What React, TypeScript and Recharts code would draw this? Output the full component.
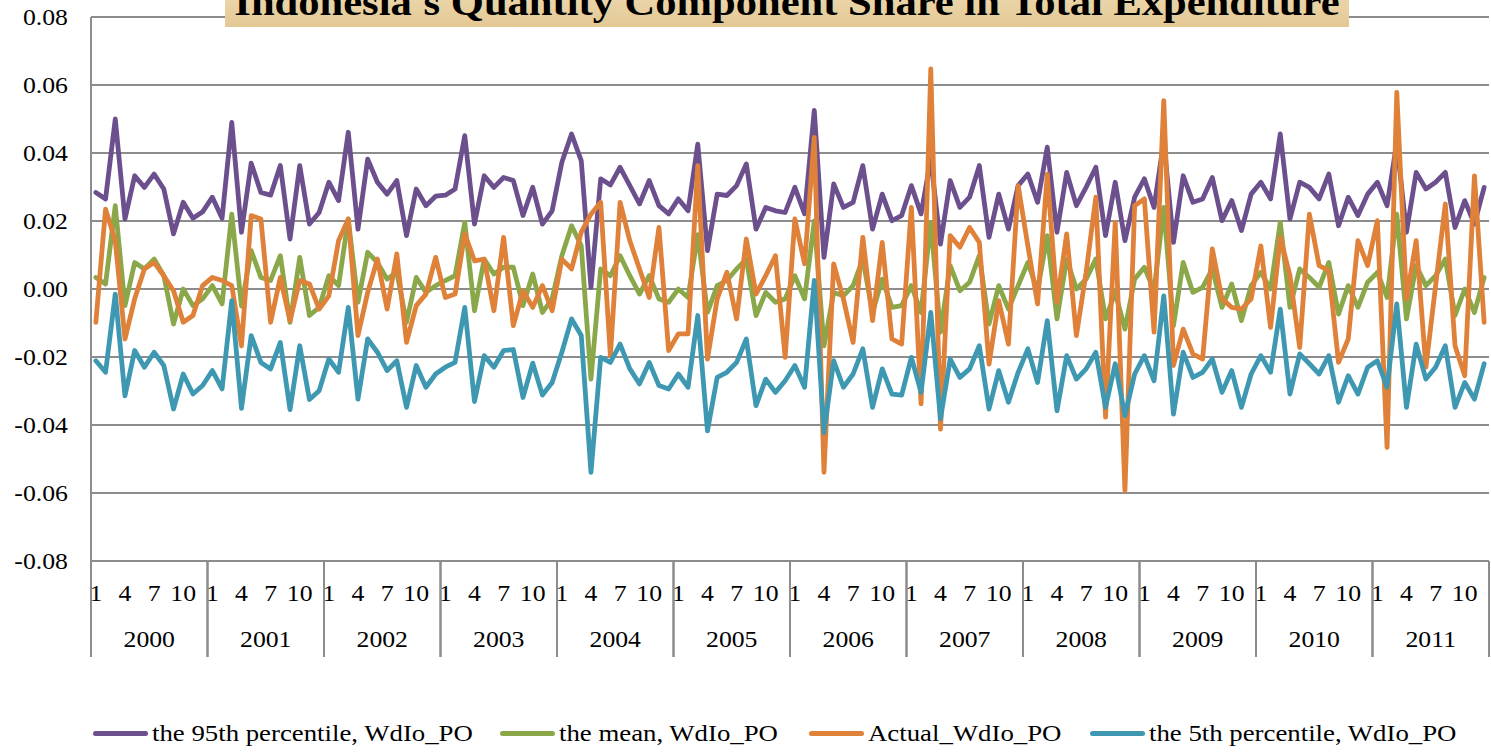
import React from 'react';
import { LineChart, Line, XAxis, YAxis, CartesianGrid } from 'recharts';

const years = [2000, 2001, 2002, 2003, 2004, 2005, 2006, 2007, 2008, 2009, 2010, 2011];
const months = [1, 2, 3, 4, 5, 6, 7, 8, 9, 10, 11, 12];
const yTicks = [-0.08, -0.06, -0.04, -0.02, 0, 0.02, 0.04, 0.06, 0.08];

const p95 = [
  0.0284, 0.0265, 0.0500, 0.0206, 0.0333, 0.0299, 0.0338, 0.0294, 0.0162, 0.0255, 0.0208, 0.0227,
  0.0270, 0.0208, 0.0490, 0.0167, 0.0370, 0.0284, 0.0276, 0.0363, 0.0147, 0.0363, 0.0191, 0.0225,
  0.0314, 0.0260, 0.0461, 0.0176, 0.0382, 0.0314, 0.0279, 0.0319, 0.0157, 0.0294, 0.0245, 0.0273,
  0.0276, 0.0294, 0.0451, 0.0191, 0.0333, 0.0299, 0.0328, 0.0319, 0.0216, 0.0299, 0.0191, 0.0230,
  0.0373, 0.0456, 0.0377, 0.0005, 0.0324, 0.0306, 0.0358, 0.0304, 0.0250, 0.0319, 0.0245, 0.0221,
  0.0265, 0.0230, 0.0426, 0.0113, 0.0279, 0.0275, 0.0304, 0.0368, 0.0176, 0.0240, 0.0230, 0.0225,
  0.0299, 0.0221, 0.0525, 0.0093, 0.0309, 0.0240, 0.0255, 0.0363, 0.0176, 0.0279, 0.0201, 0.0216,
  0.0304, 0.0221, 0.0382, 0.0132, 0.0319, 0.0240, 0.0270, 0.0363, 0.0152, 0.0279, 0.0176, 0.0304,
  0.0338, 0.0255, 0.0417, 0.0167, 0.0343, 0.0245, 0.0299, 0.0358, 0.0157, 0.0314, 0.0142, 0.0270,
  0.0324, 0.0240, 0.0436, 0.0137, 0.0333, 0.0255, 0.0265, 0.0328, 0.0201, 0.0260, 0.0172, 0.0279,
  0.0314, 0.0265, 0.0456, 0.0206, 0.0314, 0.0299, 0.0265, 0.0338, 0.0186, 0.0270, 0.0216, 0.0279,
  0.0314, 0.0245, 0.0431, 0.0167, 0.0343, 0.0294, 0.0314, 0.0343, 0.0181, 0.0260, 0.0191, 0.0299,
];

const meanV = [
  0.0034, 0.0015, 0.0245, -0.0049, 0.0078, 0.0059, 0.0088, 0.0039, -0.0103, 0.0000, -0.0049, -0.0029,
  0.0010, -0.0044, 0.0220, -0.0050, 0.0113, 0.0034, 0.0025, 0.0098, -0.0098, 0.0093, -0.0078, -0.0054,
  0.0039, 0.0010, 0.0206, -0.0039, 0.0108, 0.0078, 0.0029, 0.0049, -0.0098, 0.0034, -0.0010, 0.0010,
  0.0025, 0.0039, 0.0196, -0.0064, 0.0088, 0.0044, 0.0064, 0.0064, -0.0049, 0.0044, -0.0069, -0.0029,
  0.0098, 0.0186, 0.0127, -0.0265, 0.0059, 0.0039, 0.0098, 0.0039, -0.0015, 0.0039, -0.0029, -0.0039,
  0.0000, -0.0025, 0.0160, -0.0069, 0.0010, 0.0025, 0.0059, 0.0088, -0.0078, -0.0010, -0.0039, -0.0029,
  0.0039, -0.0029, 0.0200, -0.0167, -0.0010, -0.0020, 0.0010, 0.0088, -0.0069, 0.0029, -0.0054, -0.0049,
  0.0010, -0.0069, 0.0196, -0.0127, 0.0069, -0.0005, 0.0020, 0.0098, -0.0103, 0.0010, -0.0059, 0.0010,
  0.0078, -0.0005, 0.0157, -0.0088, 0.0088, 0.0000, 0.0029, 0.0088, -0.0088, -0.0010, -0.0118, 0.0029,
  0.0064, -0.0005, 0.0240, -0.0108, 0.0078, -0.0010, 0.0005, 0.0059, -0.0054, 0.0015, -0.0093, 0.0010,
  0.0049, 0.0000, 0.0196, -0.0054, 0.0059, 0.0034, 0.0005, 0.0078, -0.0074, 0.0010, -0.0054, 0.0020,
  0.0049, -0.0025, 0.0220, -0.0088, 0.0069, 0.0010, 0.0039, 0.0088, -0.0078, 0.0000, -0.0069, 0.0034,
];

const actual = [
  -0.0098, 0.0235, 0.0142, -0.0147, -0.0029, 0.0059, 0.0078, 0.0039, -0.0005, -0.0098, -0.0078, 0.0010,
  0.0034, 0.0025, 0.0010, -0.0167, 0.0216, 0.0206, -0.0098, 0.0034, -0.0093, 0.0025, 0.0015, -0.0059,
  -0.0020, 0.0142, 0.0206, -0.0137, -0.0010, 0.0088, -0.0059, 0.0103, -0.0157, -0.0049, -0.0015, 0.0093,
  -0.0025, -0.0015, 0.0162, 0.0083, 0.0088, -0.0064, 0.0152, -0.0108, -0.0005, -0.0054, 0.0010, -0.0064,
  0.0088, 0.0059, 0.0167, 0.0220, 0.0255, -0.0196, 0.0255, 0.0142, 0.0059, -0.0025, 0.0181, -0.0181,
  -0.0132, -0.0132, 0.0363, -0.0206, -0.0029, 0.0049, -0.0088, 0.0147, -0.0015, 0.0039, 0.0098, -0.0201,
  0.0206, 0.0074, 0.0446, -0.0539, 0.0074, -0.0029, -0.0157, 0.0152, -0.0093, 0.0137, -0.0147, -0.0162,
  0.0240, -0.0338, 0.0647, -0.0412, 0.0157, 0.0123, 0.0181, 0.0137, -0.0221, -0.0034, -0.0162, 0.0304,
  0.0127, -0.0044, 0.0338, -0.0039, 0.0162, -0.0137, 0.0049, 0.0270, -0.0377, 0.0196, -0.0593, 0.0245,
  0.0265, -0.0127, 0.0554, -0.0225, -0.0118, -0.0191, -0.0206, 0.0118, -0.0029, -0.0054, -0.0059, -0.0029,
  0.0127, -0.0113, 0.0152, 0.0039, -0.0172, 0.0220, 0.0069, 0.0054, -0.0216, -0.0147, 0.0142, 0.0069,
  0.0201, -0.0466, 0.0578, -0.0029, 0.0142, -0.0230, 0.0010, 0.0250, -0.0167, -0.0255, 0.0333, -0.0098,
];

const p5 = [
  -0.0211, -0.0245, -0.0015, -0.0314, -0.0181, -0.0230, -0.0186, -0.0225, -0.0353, -0.0250, -0.0309, -0.0284,
  -0.0240, -0.0294, -0.0034, -0.0351, -0.0137, -0.0216, -0.0235, -0.0157, -0.0355, -0.0167, -0.0325, -0.0299,
  -0.0206, -0.0245, -0.0054, -0.0324, -0.0147, -0.0186, -0.0240, -0.0211, -0.0348, -0.0225, -0.0289, -0.0250,
  -0.0230, -0.0216, -0.0054, -0.0331, -0.0196, -0.0230, -0.0181, -0.0178, -0.0319, -0.0218, -0.0312, -0.0275,
  -0.0186, -0.0088, -0.0137, -0.0539, -0.0201, -0.0216, -0.0162, -0.0235, -0.0279, -0.0216, -0.0284, -0.0294,
  -0.0250, -0.0289, -0.0078, -0.0417, -0.0260, -0.0245, -0.0216, -0.0147, -0.0343, -0.0265, -0.0304, -0.0270,
  -0.0225, -0.0289, 0.0025, -0.0422, -0.0211, -0.0289, -0.0250, -0.0176, -0.0348, -0.0235, -0.0309, -0.0312,
  -0.0201, -0.0304, -0.0069, -0.0382, -0.0206, -0.0260, -0.0235, -0.0167, -0.0353, -0.0240, -0.0333, -0.0245,
  -0.0176, -0.0275, -0.0093, -0.0358, -0.0196, -0.0265, -0.0235, -0.0186, -0.0348, -0.0220, -0.0373, -0.0250,
  -0.0196, -0.0270, -0.0020, -0.0368, -0.0186, -0.0260, -0.0245, -0.0206, -0.0304, -0.0240, -0.0348, -0.0250,
  -0.0196, -0.0245, -0.0059, -0.0309, -0.0191, -0.0220, -0.0250, -0.0196, -0.0333, -0.0255, -0.0309, -0.0230,
  -0.0211, -0.0289, -0.0044, -0.0348, -0.0162, -0.0265, -0.0230, -0.0167, -0.0348, -0.0275, -0.0324, -0.0220,
];

const seriesMeta = [
  { key: 'p95', name: 'the 95th percentile, WdIo_PO', color: '#6C4F8D' },
  { key: 'mean', name: 'the mean, WdIo_PO', color: '#8AA84A' },
  { key: 'actual', name: 'Actual_WdIo_PO', color: '#DF8138' },
  { key: 'p5', name: 'the 5th percentile, WdIo_PO', color: '#3F98B2' },
];

const data = years.flatMap((yr, yi) =>
  months.map((m, mi) => {
    const i = yi * 12 + mi;
    return { label: `${yr}-${m}`, year: yr, month: m, p95: p95[i], mean: meanV[i], actual: actual[i], p5: p5[i] };
  })
);

const FONT = "'Times New Roman', 'Liberation Serif', serif";
const GRID = '#8C8C8C';
const SHOWN_MONTHS = [1, 4, 7, 10];
const SX = 1.12;
const CHART_W = 1491;
const PLOT_LEFT = 91;
const PLOT_RIGHT_MARGIN = 2;
const HALF_STEP = (CHART_W - PLOT_LEFT - PLOT_RIGHT_MARGIN) / (years.length * months.length) / 2;

const MonthYearTick = (props: any) => {
  const { x, y, payload } = props;
  const [yrStr, mStr] = String(payload.value).split('-');
  const m = Number(mStr);
  const half = HALF_STEP;
  const items: any[] = [];
  if (SHOWN_MONTHS.includes(m)) {
    items.push(
      <text key="m" transform={`translate(${x},${y + 40}) scale(${SX},1)`} textAnchor="middle" fontSize={23} fontFamily={FONT} fill="#000">
        {m}
      </text>
    );
  }
  if (m === 1) {
    items.push(<line key="s" x1={x - half} x2={x - half} y1={y} y2={y + 96} stroke={GRID} strokeWidth={2} />);
  }
  if (m === 12) {
    items.push(<line key="e" x1={x + half} x2={x + half} y1={y} y2={y + 96} stroke={GRID} strokeWidth={2} />);
  }
  if (m === 7) {
    items.push(
      <text key="y" transform={`translate(${x - half},${y + 86}) scale(${SX},1)`} textAnchor="middle" fontSize={23} fontFamily={FONT} fill="#000">
        {yrStr}
      </text>
    );
  }
  return <g>{items}</g>;
};

const ValueTick = (props: any) => {
  const { x, y, payload } = props;
  return (
    <text transform={`translate(${x},${y + 8}) scale(${SX},1)`} textAnchor="end" fontSize={23} fontFamily={FONT} fill="#000">
      {Number(payload.value).toFixed(2)}
    </text>
  );
};

const legendPos = [93, 500, 809, 1090];

export default function App() {
  return (
    <div style={{ position: 'absolute', left: 0, top: 0, width: 1491, height: 752, overflow: 'hidden', background: '#fff' }}>
      <LineChart width={CHART_W} height={752} data={data} margin={{ top: 17, right: PLOT_RIGHT_MARGIN, bottom: 91, left: 0 }}>
        <CartesianGrid horizontal={true} vertical={false} stroke={GRID} strokeWidth={2} strokeDasharray="" />
        <XAxis
          dataKey="label"
          interval={0}
          tickLine={false}
          tickSize={0}
          tickMargin={0}
          padding={{ left: HALF_STEP, right: HALF_STEP }}
          axisLine={{ stroke: GRID, strokeWidth: 2 }}
          height={100}
          tick={<MonthYearTick />}
        />
        <YAxis
          domain={[-0.08, 0.08]}
          ticks={yTicks}
          width={PLOT_LEFT}
          tickLine={false}
          tickSize={0}
          tickMargin={23}
          axisLine={{ stroke: GRID, strokeWidth: 2 }}
          tick={<ValueTick />}
          allowDataOverflow
        />
        {seriesMeta.map((s) => (
          <Line
            key={s.key}
            dataKey={s.key}
            name={s.name}
            stroke={s.color}
            strokeWidth={4.8}
            dot={false}
            isAnimationActive={false}
            strokeLinejoin="round"
            strokeLinecap="round"
          />
        ))}
      </LineChart>
      <div
        style={{
          position: 'absolute',
          left: 225,
          top: 0,
          width: 1124,
          height: 27,
          overflow: 'hidden',
          background: 'linear-gradient(180deg, #EAD4A8 0%, #E3C893 100%)',
        }}
      >
        <div
          style={{
            position: 'absolute',
            left: 0,
            top: -17,
            width: 1124,
            textAlign: 'center',
            fontFamily: FONT,
            fontWeight: 'bold',
            fontSize: 38,
            lineHeight: '38px',
            whiteSpace: 'nowrap',
            color: '#000',
            transform: `scaleX(${SX})`,
            transformOrigin: '562px 0',
          }}
        >
          Indonesia's Quantity Component Share in Total Expenditure
        </div>
      </div>
      {seriesMeta.map((s, i) => (
        <div
          key={s.key}
          style={{
            position: 'absolute',
            left: legendPos[i],
            top: 719,
            height: 28,
            display: 'flex',
            alignItems: 'center',
            fontFamily: FONT,
            fontSize: 24,
            whiteSpace: 'nowrap',
            color: '#000',
          }}
        >
          <div style={{ width: 55, height: 5, borderRadius: 3, background: s.color, marginRight: 4 }} />
          <span style={{ display: 'inline-block', transform: 'scaleX(1.116)', transformOrigin: '0 50%' }}>{s.name}</span>
        </div>
      ))}
    </div>
  );
}
